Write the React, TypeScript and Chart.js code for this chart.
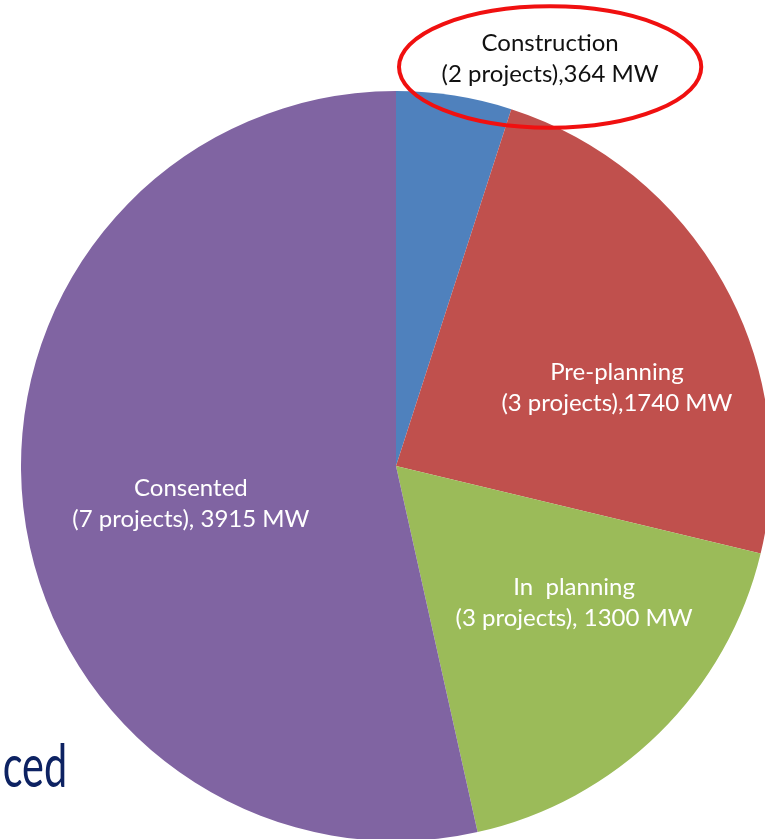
import React, { useEffect, useRef } from "react";
import { Chart, registerables } from "chart.js";

Chart.register(...registerables);

const categories = ["Construction", "Pre-planning", "In  planning", "Consented"];
const projectCounts = [2, 3, 3, 7];
const capacityMW = [364, 1740, 1300, 3915];
const valueLabels = ["(2 projects),364 MW", "(3 projects),1740 MW", "(3 projects), 1300 MW", "(7 projects), 3915 MW"];
const sliceColors = ["#4F81BD", "#C0504D", "#9BBB59", "#8064A2"];
const labelColors = ["#111111", "#FFFFFF", "#FFFFFF", "#FFFFFF"];
// label offsets relative to pie centre, in units of radius
const labelOffsets = [
  { dx: 0.411, dy: -1.085 },
  { dx: 0.589, dy: -0.208 },
  { dx: 0.475, dy: 0.365 },
  { dx: -0.547, dy: 0.101 },
];
const highlightIndex = 0;
const backgroundText = "ced";

const FONT = "Lato, 'Open Sans', sans-serif";

const labelPlugin = {
  id: "sliceLabels",
  afterDraw(chart: any) {
    const ctx = chart.ctx;
    const meta = chart.getDatasetMeta(0);
    const arc0 = meta.data[0];
    if (!arc0) return;
    const cx = arc0.x;
    const cy = arc0.y;
    const R = arc0.outerRadius;
    ctx.save();
    ctx.font = `24px ${FONT}`;
    ctx.textAlign = "center";
    ctx.textBaseline = "middle";
    const lh = 31;
    categories.forEach((cat, i) => {
      const x = cx + labelOffsets[i].dx * R;
      const y = cy + labelOffsets[i].dy * R;
      ctx.fillStyle = labelColors[i];
      ctx.fillText(cat, x, y - lh / 2);
      ctx.fillText(valueLabels[i], x, y + lh / 2);
    });
    // highlight ellipse
    const hx = cx + labelOffsets[highlightIndex].dx * R;
    const hy = cy + labelOffsets[highlightIndex].dy * R + 0.021 * R;
    ctx.beginPath();
    ctx.ellipse(hx, hy, 0.403 * R, 0.162 * R, 0, 0, Math.PI * 2);
    ctx.strokeStyle = "#F01010";
    ctx.lineWidth = 4;
    ctx.stroke();
    // background slide text (cut-off word from the slide behind)
    ctx.font = `60px ${FONT}`;
    ctx.textAlign = "right";
    ctx.textBaseline = "alphabetic";
    ctx.fillStyle = "#0D2262";
    const w = ctx.measureText(backgroundText).width;
    const targetW = 0.172 * R;
    const sx = targetW / w;
    const rightX = cx - 0.877 * R;
    const baseY = cy + 0.857 * R;
    ctx.translate(rightX, baseY);
    ctx.scale(sx, 1);
    ctx.fillText(backgroundText, 0, 0);
    ctx.restore();
  },
};

export default function App() {
  const ref = useRef<HTMLCanvasElement>(null);
  useEffect(() => {
    document.body.style.margin = "0";
    const chart = new Chart(ref.current!, {
      type: "pie",
      data: {
        labels: categories,
        datasets: [
          {
            data: capacityMW,
            backgroundColor: sliceColors,
            borderWidth: 0,
          },
        ],
      },
      options: {
        responsive: false,
        animation: false,
        radius: 375,
        layout: { padding: { left: 27, top: 93, right: 0, bottom: 0 } },
        plugins: {
          legend: { display: false },
          tooltip: { enabled: false },
        },
      },
      plugins: [labelPlugin],
    });
    return () => chart.destroy();
  }, []);
  return (
    <div style={{ position: "fixed", left: 0, top: 0, width: 765, height: 839, overflow: "hidden", background: "#fff" }}>
      <canvas ref={ref} width={765} height={839} data-projects={projectCounts.join(",")} />
    </div>
  );
}
